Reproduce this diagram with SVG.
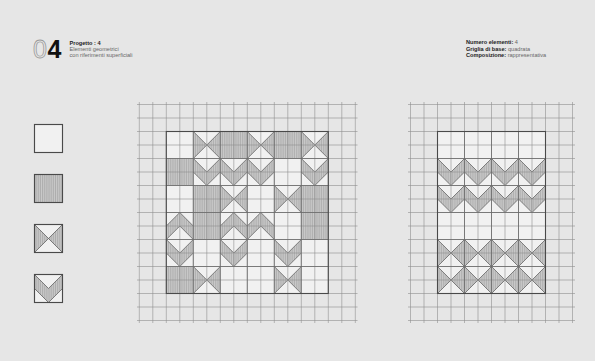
<svg xmlns="http://www.w3.org/2000/svg" width="595" height="361" viewBox="0 0 595 361">
<style>
.bg{fill:#e6e6e6}
.grid{fill:none;stroke:#8f8f8f;stroke-width:0.6}
.tb{fill:none;stroke:#6a6a6a;stroke-width:0.8}
.frame{fill:none;stroke:#4a4a4a;stroke-width:1.1}
.ln{fill:none;stroke:#666;stroke-width:0.8}
.lbl{font-family:"Liberation Sans",Arial,sans-serif;font-size:5.6px;fill:#222}
.b{font-weight:bold}
.val{fill:#666}
</style>
<defs>
<pattern id="hatch" width="1.8" height="4" patternUnits="userSpaceOnUse">
<rect width="1.8" height="4" fill="#c9c9c9"/>
<line x1="0.45" y1="0" x2="0.45" y2="4" stroke="#a2a2a2" stroke-width="0.6"/>
</pattern>
<g id="tE"><rect width="27" height="27" fill="#f1f1f1"/></g>
<g id="tH"><rect width="27" height="27" fill="url(#hatch)"/></g>
<g id="tX"><rect width="27" height="27" fill="#f1f1f1"/>
<path d="M0 0 L13.5 13.5 L0 27Z M27 0 L13.5 13.5 L27 27Z" fill="url(#hatch)"/>
<path d="M0 0 L27 27 M27 0 L0 27" class="ln"/></g>
<g id="tV"><rect width="27" height="27" fill="#f1f1f1"/>
<path d="M0 0 L13.5 13.5 L27 0 L27 13.5 L13.5 27 L0 13.5Z" fill="url(#hatch)"/>
<path d="M0 0 L13.5 13.5 L27 0 M27 13.5 L13.5 27 L0 13.5" class="ln"/></g>
<g id="tA"><use href="#tV" transform="matrix(1 0 0 -1 0 27)"/></g>
</defs>
<rect class="bg" width="595" height="361"/>

<g id="header-left">
<text x="33" y="58" font-family="'Liberation Sans',Arial,sans-serif" font-size="25" fill="none" stroke="#9a9a9a" stroke-width="0.8">0</text>
<text x="47.5" y="58" font-family="'Liberation Sans',Arial,sans-serif" font-size="25" font-weight="bold" fill="#111">4</text>
<text class="lbl b" x="69.5" y="45">Progetto : 4</text>
<text class="lbl val" x="69.5" y="51">Elementi geometrici</text>
<text class="lbl val" x="69.5" y="57">con riferimenti superficiali</text>
</g>

<g id="header-right">
<text class="lbl" x="466" y="44"><tspan class="b">Numero elementi:</tspan><tspan class="val"> 4</tspan></text>
<text class="lbl" x="466" y="50.5"><tspan class="b">Griglia di base:</tspan><tspan class="val"> quadrata</tspan></text>
<text class="lbl" x="466" y="57"><tspan class="b">Composizione:</tspan><tspan class="val"> rappresentativa</tspan></text>
</g>

<g id="legend">
<g id="legend-empty" transform="translate(34.5 124.5) scale(1.037)"><use href="#tE"/><rect width="27" height="27" class="frame"/></g>
<g id="legend-hatch" transform="translate(34.5 174.5) scale(1.037)"><use href="#tH"/><rect width="27" height="27" class="frame"/></g>
<g id="legend-x" transform="translate(34.5 224.5) scale(1.037)"><use href="#tX"/><rect width="27" height="27" class="frame"/></g>
<g id="legend-v" transform="translate(34.5 274.5) scale(1.037)"><use href="#tV"/><rect width="27" height="27" class="frame"/></g>
</g>

<g id="main-pattern" transform="translate(166.3 131.5)">
<use href="#tE" x="0" y="0"/><use href="#tX" x="27" y="0"/><use href="#tH" x="54" y="0"/><use href="#tX" x="81" y="0"/><use href="#tH" x="108" y="0"/><use href="#tX" x="135" y="0"/>
<use href="#tH" x="0" y="27"/><use href="#tV" x="27" y="27"/><use href="#tV" x="54" y="27"/><use href="#tV" x="81" y="27"/><use href="#tE" x="108" y="27"/><use href="#tV" x="135" y="27"/>
<use href="#tE" x="0" y="54"/><use href="#tH" x="27" y="54"/><use href="#tX" x="54" y="54"/><use href="#tE" x="81" y="54"/><use href="#tX" x="108" y="54"/><use href="#tH" x="135" y="54"/>
<use href="#tA" x="0" y="81"/><use href="#tH" x="27" y="81"/><use href="#tA" x="54" y="81"/><use href="#tA" x="81" y="81"/><use href="#tE" x="108" y="81"/><use href="#tH" x="135" y="81"/>
<use href="#tV" x="0" y="108"/><use href="#tE" x="27" y="108"/><use href="#tV" x="54" y="108"/><use href="#tE" x="81" y="108"/><use href="#tV" x="108" y="108"/><use href="#tE" x="135" y="108"/>
<use href="#tH" x="0" y="135"/><use href="#tX" x="27" y="135"/><use href="#tE" x="54" y="135"/><use href="#tE" x="81" y="135"/><use href="#tX" x="108" y="135"/><use href="#tE" x="135" y="135"/>
</g>

<g id="right-pattern" transform="translate(437.5 131.5)">
<use href="#tE" x="0" y="0"/><use href="#tE" x="27" y="0"/><use href="#tE" x="54" y="0"/><use href="#tE" x="81" y="0"/>
<use href="#tV" x="0" y="27"/><use href="#tV" x="27" y="27"/><use href="#tV" x="54" y="27"/><use href="#tV" x="81" y="27"/>
<use href="#tV" x="0" y="54"/><use href="#tV" x="27" y="54"/><use href="#tV" x="54" y="54"/><use href="#tV" x="81" y="54"/>
<use href="#tE" x="0" y="81"/><use href="#tE" x="27" y="81"/><use href="#tE" x="54" y="81"/><use href="#tE" x="81" y="81"/>
<use href="#tX" x="0" y="108"/><use href="#tX" x="27" y="108"/><use href="#tX" x="54" y="108"/><use href="#tX" x="81" y="108"/>
<use href="#tX" x="0" y="135"/><use href="#tX" x="27" y="135"/><use href="#tX" x="54" y="135"/><use href="#tX" x="81" y="135"/>
</g>

<g id="connectors">
<path id="main-grid" class="grid" d="M139.3 102V323M152.8 102V323M166.3 102V323M179.8 102V323M193.3 102V323M206.8 102V323M220.3 102V323M233.8 102V323M247.3 102V323M260.8 102V323M274.3 102V323M287.8 102V323M301.3 102V323M314.8 102V323M328.3 102V323M341.8 102V323M355.3 102V323
M137 104.5H357.5M137 118H357.5M137 131.5H357.5M137 145H357.5M137 158.5H357.5M137 172H357.5M137 185.5H357.5M137 199H357.5M137 212.5H357.5M137 226H357.5M137 239.5H357.5M137 253H357.5M137 266.5H357.5M137 280H357.5M137 293.5H357.5M137 307H357.5M137 320.5H357.5"/>
<path id="right-grid" class="grid" d="M410.5 102V323M424 102V323M437.5 102V323M451 102V323M464.5 102V323M478 102V323M491.5 102V323M505 102V323M518.5 102V323M532 102V323M545.5 102V323M559 102V323M572.5 102V323
M408 104.5H575M408 118H575M408 131.5H575M408 145H575M408 158.5H575M408 172H575M408 185.5H575M408 199H575M408 212.5H575M408 226H575M408 239.5H575M408 253H575M408 266.5H575M408 280H575M408 293.5H575M408 307H575M408 320.5H575"/>
<path class="tb" d="M193.3 131.5V293.5M220.3 131.5V293.5M247.3 131.5V293.5M274.3 131.5V293.5M301.3 131.5V293.5M166.3 158.5H328.3M166.3 185.5H328.3M166.3 212.5H328.3M166.3 239.5H328.3M166.3 266.5H328.3"/>
<path class="tb" d="M464.5 131.5V293.5M491.5 131.5V293.5M518.5 131.5V293.5M437.5 158.5H545.5M437.5 185.5H545.5M437.5 212.5H545.5M437.5 239.5H545.5M437.5 266.5H545.5"/>
<rect class="frame" x="166.3" y="131.5" width="162" height="162"/>
<rect class="frame" x="437.5" y="131.5" width="108" height="162"/>
</g>
</svg>
